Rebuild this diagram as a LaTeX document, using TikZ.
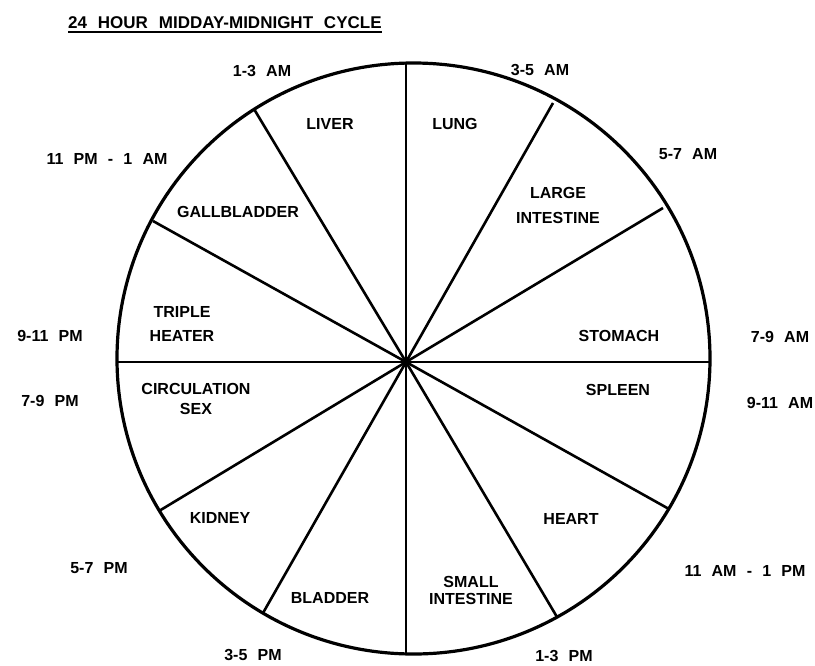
\documentclass[tikz,border=0pt]{standalone}
\usepackage{fontspec}
\setmainfont{Liberation Sans}[WordSpace=2.3]
\newcommand\lblfont[1]{\bfseries\fontsize{16}{#1}\selectfont}
\tikzset{
  lbl/.style={inner sep=0pt, align=center, font=\lblfont{20}},
  rim/.style={line width=3.2pt},
  spoke/.style={line width=2.6pt},
}
\begin{document}
\begin{tikzpicture}[x=1pt,y=-1pt]
\useasboundingbox (0,0) rectangle (815,665);
% title
\node[lbl, anchor=south west, font=\bfseries\fontsize{17}{20}\selectfont] (title) at (68,29) {24 HOUR MIDDAY-MIDNIGHT CYCLE};
\draw[line width=1.6pt] (title.south west) ++(0,3) -- ([yshift=-3pt]title.south east);
% wheel
\coordinate (c) at (406,362);
\draw[rim] (413.5,358.5) ellipse [x radius=296.5pt, y radius=295.5pt];
\coordinate (top) at (406,63);
\coordinate (bot) at (406,654);
\coordinate (lft) at (117,362);
\coordinate (rgt) at (710,362);
\coordinate (p1) at (254,109);
\coordinate (p2) at (153,221);
\coordinate (p3) at (553,103);
\coordinate (p4) at (663,208);
\coordinate (p5) at (159,511);
\coordinate (p6) at (263,613);
\coordinate (p7) at (557,617);
\coordinate (p8) at (669,509);
\draw[spoke] (top) -- (bot);
\draw[spoke] (lft) -- (rgt);
\foreach \p in {p1,p2,p3,p4,p5,p6,p7,p8} \draw[spoke] (c) -- (\p);
% organs
\node[lbl] (liver) at (330,124) {LIVER};
\node[lbl] (lung) at (455,124) {LUNG};
\node[lbl, font=\lblfont{25}] (li) at (558,205.5) {LARGE\\INTESTINE};
\node[lbl] (gall) at (238,212) {GALLBLADDER};
\node[lbl, font=\lblfont{24}] (th) at (182,324) {TRIPLE\\HEATER};
\node[lbl] (stom) at (619,336) {STOMACH};
\node[lbl] (spl) at (618,390) {SPLEEN};
\node[lbl, font=\lblfont{20}] (circ) at (196,399) {CIRCULATION\\SEX};
\node[lbl] (kid) at (220,518) {KIDNEY};
\node[lbl] (blad) at (330,598) {BLADDER};
\node[lbl, font=\lblfont{17}] (si) at (471,590.5) {SMALL\\INTESTINE};
\node[lbl] (heart) at (571,519) {HEART};
% times
\node[lbl] (t1) at (262,71) {1-3 AM};
\node[lbl] (t2) at (540,70) {3-5 AM};
\node[lbl] (t3) at (688,154) {5-7 AM};
\node[lbl] (t4) at (107,159) {11 PM - 1 AM};
\node[lbl] (t5) at (50,336) {9-11 PM};
\node[lbl] (t6) at (50,401) {7-9 PM};
\node[lbl] (t7) at (780,337) {7-9 AM};
\node[lbl] (t8) at (780,403) {9-11 AM};
\node[lbl] (t9) at (99,568) {5-7 PM};
\node[lbl] (t10) at (253,655) {3-5 PM};
\node[lbl] (t11) at (745,571) {11 AM - 1 PM};
\node[lbl] (t12) at (564,656) {1-3 PM};
\end{tikzpicture}
\end{document}
